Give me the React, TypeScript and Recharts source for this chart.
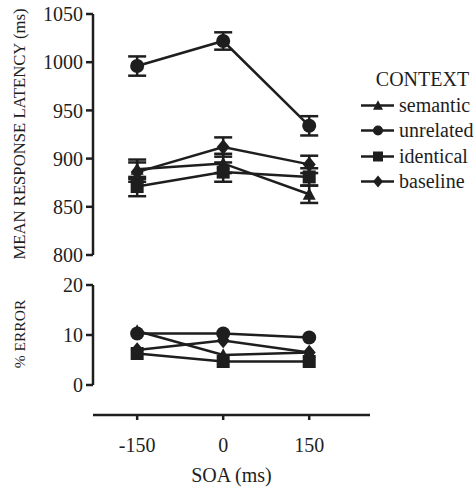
import React from "react"
import { LineChart, Line, XAxis, YAxis, ErrorBar, Legend, ReferenceLine, Label } from "recharts"

// SOA conditions (ms)
const soa = [-150, 0, 150]

// mean response latency (ms)
const semanticRt = [889, 895, 863]
const unrelatedRt = [996, 1022, 934]
const identicalRt = [871, 886, 881]
const baselineRt = [886, 912, 894]

// error bars on latency (ms)
const semanticRtErr = [10, 10, 9]
const unrelatedRtErr = [10, 9, 10]
const identicalRtErr = [10, 10, 9]
const baselineRtErr = [10, 10, 9]

// % error
const semanticErr = [10.8, 6.0, 6.5]
const unrelatedErr = [10.3, 10.3, 9.5]
const identicalErr = [6.3, 4.7, 4.7]
const baselineErr = [7.0, 8.9, 6.5]

const rtTicks = [800, 850, 900, 950, 1000, 1050]
const errTicks = [0, 10, 20]

const series = [
  { key: "semantic", shape: "triangle", rt: semanticRt, rtErr: semanticRtErr, err: semanticErr },
  { key: "unrelated", shape: "circle", rt: unrelatedRt, rtErr: unrelatedRtErr, err: unrelatedErr },
  { key: "identical", shape: "square", rt: identicalRt, rtErr: identicalRtErr, err: identicalErr },
  { key: "baseline", shape: "diamond", rt: baselineRt, rtErr: baselineRtErr, err: baselineErr },
]

const rtData = soa.map((x, i) => {
  const row: any = { soa: x }
  series.forEach((s) => {
    row[s.key] = s.rt[i]
    row[s.key + "Err"] = s.rtErr[i]
  })
  return row
})

const errData = soa.map((x, i) => {
  const row: any = { soa: x }
  series.forEach((s) => {
    row[s.key] = s.err[i]
  })
  return row
})

const INK = "#1e1e1e"
const FONT = "'Liberation Serif', 'DejaVu Serif', serif"
const X_DOMAIN: [number, number] = [-227, 256]

function Marker({ shape, cx, cy, s }: { shape: string; cx: number; cy: number; s: number }) {
  if (cx == null || cy == null) return null
  if (shape === "circle") return <circle cx={cx} cy={cy} r={s / 2} fill={INK} />
  if (shape === "square") return <rect x={cx - s / 2} y={cy - s / 2} width={s} height={s} fill={INK} />
  if (shape === "triangle") {
    const h = s * 0.95
    return (
      <polygon
        points={`${cx},${cy - h * 0.55} ${cx + s / 2},${cy + h * 0.45} ${cx - s / 2},${cy + h * 0.45}`}
        fill={INK}
      />
    )
  }
  const h = s * 1.2
  return (
    <polygon
      points={`${cx},${cy - h / 2} ${cx + s / 2},${cy} ${cx},${cy + h / 2} ${cx - s / 2},${cy}`}
      fill={INK}
    />
  )
}

const dotFor = (name: string, shape: string) => (p: any) =>
  <Marker key={`${name}-${p.index}`} shape={shape} cx={p.cx} cy={p.cy} s={shape === "circle" ? 14 : 13} />

const tickStyle = { fill: INK, fontSize: 20, fontFamily: FONT }

const sideLabel = (text: string, cy: number, size: number) => () =>
  (
    <text
      x={19}
      y={cy}
      transform={`rotate(-90, 19, ${cy})`}
      textAnchor="middle"
      dominantBaseline="central"
      fontSize={size}
      fontFamily={FONT}
      fill={INK}
    >
      {text}
    </text>
  )

const renderLegend = () => (
  <div style={{ fontFamily: FONT, fontSize: 20, color: INK }}>
    <div style={{ height: 28, lineHeight: "28px", textAlign: "center", paddingLeft: 10 }}>CONTEXT</div>
    {series.map((s) => (
      <div key={s.key} style={{ height: 25.3, display: "flex", alignItems: "center" }}>
        <svg width={38} height={21} style={{ display: "block" }}>
          <line x1={1} y1={10.5} x2={34} y2={10.5} stroke={INK} strokeWidth={2.5} />
          <Marker shape={s.shape} cx={18} cy={10.5} s={10} />
        </svg>
        <span style={{ marginLeft: 1 }}>{s.key}</span>
      </div>
    ))}
  </div>
)

export default function App() {
  return (
    <div style={{ position: "absolute", left: 0, top: 0, width: 475, height: 490, background: "#fff" }}>
      <div style={{ position: "absolute", left: 0, top: 0 }}>
        <LineChart width={475} height={270} data={rtData} margin={{ top: 14, right: 105, bottom: 15, left: 43 }}>
          <XAxis dataKey="soa" type="number" domain={X_DOMAIN} hide />
          <YAxis
            domain={[800, 1050]}
            ticks={rtTicks}
            width={50}
            tickSize={7}
            tickMargin={3}
            tick={tickStyle}
            axisLine={{ stroke: INK, strokeWidth: 2.5 }}
            tickLine={{ stroke: INK, strokeWidth: 2.5 }}
          >
            <Label content={sideLabel("MEAN RESPONSE LATENCY (ms)", 134, 16.7)} />
          </YAxis>
          <Legend
            layout="vertical"
            align="center"
            verticalAlign="middle"
            content={renderLegend}
            wrapperStyle={{ left: 360, top: 65, width: 115 }}
          />
          {series.map((s) => (
            <Line
              key={s.key}
              dataKey={s.key}
              stroke={INK}
              strokeWidth={2.5}
              dot={dotFor(s.key, s.shape)}
              activeDot={false}
              isAnimationActive={false}
            >
              <ErrorBar dataKey={s.key + "Err"} width={9} stroke={INK} strokeWidth={2.5} direction="y" />
            </Line>
          ))}
        </LineChart>
      </div>
      <div style={{ position: "absolute", left: 0, top: 270 }}>
        <LineChart width={475} height={220} data={errData} margin={{ top: 15, right: 105, bottom: 0, left: 43 }}>
          <XAxis
            dataKey="soa"
            type="number"
            domain={X_DOMAIN}
            ticks={soa}
            height={75}
            tickSize={5}
            tickMargin={18}
            tick={tickStyle}
            axisLine={{ stroke: INK, strokeWidth: 2.5 }}
            tickLine={{ stroke: INK, strokeWidth: 2.5 }}
          >
            <Label value="SOA (ms)" position="insideBottom" offset={8} fontSize={20} fontFamily={FONT} fill={INK} />
          </XAxis>
          <YAxis
            domain={[-6, 20]}
            ticks={errTicks}
            width={50}
            tickSize={7}
            tickMargin={3}
            tick={tickStyle}
            axisLine={false}
            tickLine={{ stroke: INK, strokeWidth: 2.5 }}
            allowDataOverflow
          >
            <Label content={sideLabel("% ERROR", 64, 15.5)} />
          </YAxis>
          <ReferenceLine
            segment={[
              { x: X_DOMAIN[0], y: 0 },
              { x: X_DOMAIN[0], y: 20 },
            ]}
            stroke={INK}
            strokeWidth={2.5}
          />
          {series.map((s) => (
            <Line
              key={s.key}
              dataKey={s.key}
              stroke={INK}
              strokeWidth={2.5}
              dot={dotFor(s.key, s.shape)}
              activeDot={false}
              isAnimationActive={false}
            />
          ))}
        </LineChart>
      </div>
    </div>
  )
}
